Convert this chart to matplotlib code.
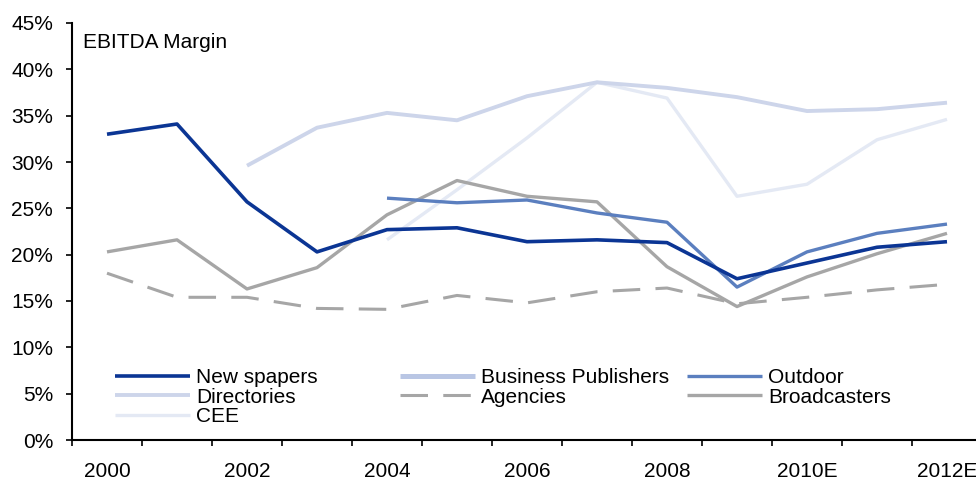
import numpy as np
import matplotlib
matplotlib.use("Agg")
import matplotlib.pyplot as plt
from matplotlib.legend import Legend

plt.rcParams['font.family'] = ['Liberation Sans', 'DejaVu Sans']

years = ['2000', '2001', '2002', '2003', '2004', '2005', '2006',
         '2007', '2008', '2009', '2010E', '2011E', '2012E']
nan = np.nan

newspapers = [33.0, 34.1, 25.7, 20.3, 22.7, 22.9, 21.4, 21.6, 21.3, 17.4, 19.1, 20.8, 21.4]
business_publishers = [nan] * 13
outdoor = [nan, nan, nan, nan, 26.1, 25.6, 25.9, 24.5, 23.5, 16.5, 20.3, 22.3, 23.3]
directories = [nan, nan, 29.6, 33.7, 35.3, 34.5, 37.1, 38.6, 38.0, 37.0, 35.5, 35.7, 36.4]
agencies = [18.0, 15.4, 15.4, 14.2, 14.1, 15.6, 14.8, 16.0, 16.4, 14.7, 15.4, 16.2, 16.8]
broadcasters = [20.3, 21.6, 16.3, 18.6, 24.3, 28.0, 26.3, 25.7, 18.7, 14.4, 17.6, 20.1, 22.3]
cee = [nan, nan, nan, nan, 21.6, 27.0, 32.6, 38.6, 36.9, 26.3, 27.6, 32.4, 34.6]

fig = plt.figure(figsize=(9.76, 4.8), dpi=100)
ax = fig.add_axes([72 / 976, 40 / 480, 910 / 976, 417 / 480])

x = np.arange(len(years))

series = [
    ('New spapers', newspapers, dict(color='#0B3594', lw=2.6)),
    ('Business Publishers', business_publishers, dict(color='#B9C6E4', lw=3.6)),
    ('Outdoor', outdoor, dict(color='#5B7FBF', lw=2.4)),
    ('Directories', directories, dict(color='#CDD5EA', lw=2.8)),
    ('Agencies', agencies, dict(color='#A6A6A6', lw=2.2, dashes=(9, 5))),
    ('Broadcasters', broadcasters, dict(color='#A6A6A6', lw=2.4)),
    ('CEE', cee, dict(color='#E4E9F4', lw=2.4)),
]

# draw lighter lines first so the darker ones sit on top
draw_order = ['CEE', 'Directories', 'Business Publishers', 'Agencies',
              'Broadcasters', 'Outdoor', 'New spapers']
handles = {}
for name in draw_order:
    label, vals, style = next(s for s in series if s[0] == name)
    ln, = ax.plot(x, vals, solid_capstyle='butt', dash_capstyle='butt', **style)
    handles[label] = ln

ax.set_xlim(-0.5, len(years) - 0.5)
ax.set_ylim(0, 45)

# y axis
ax.set_yticks(np.arange(0, 46, 5))
ax.set_yticklabels([f'{v}%' for v in range(0, 46, 5)])
ax.tick_params(axis='y', direction='out', length=4.5, width=1.2, pad=9, labelsize=15)

# x axis: tick marks at category boundaries, labels every other year
ax.set_xticks(np.arange(-0.5, len(years), 1.0), minor=True)
ax.set_xticks(x[::2])
ax.set_xticklabels(years[::2])
ax.tick_params(axis='x', which='major', length=0, pad=16, labelsize=15)
ax.tick_params(axis='x', which='minor', direction='out', length=4.5, width=1.2)

for side in ('top', 'right'):
    ax.spines[side].set_visible(False)
for side in ('left', 'bottom'):
    ax.spines[side].set_linewidth(1.5)
    ax.spines[side].set_color('black')

ax.text(0.012, 0.975, 'EBITDA Margin', transform=ax.transAxes,
        ha='left', va='top', fontsize=15)

# legend laid out as three fixed columns
columns = [
    (['New spapers', 'Directories', 'CEE'], 115),
    (['Business Publishers', 'Agencies'], 400),
    (['Outdoor', 'Broadcasters'], 687),
]
for labels, px in columns:
    leg = Legend(ax, [handles[l] for l in labels], labels,
                 loc='upper left',
                 bbox_to_anchor=(px / 976, (480 - 368) / 480),
                 bbox_transform=fig.transFigure,
                 frameon=False, fontsize=15, handlelength=3.6,
                 handletextpad=0.3, labelspacing=0.03,
                 borderpad=0, borderaxespad=0)
    ax.add_artist(leg)

fig.savefig('out.png', dpi=100)
